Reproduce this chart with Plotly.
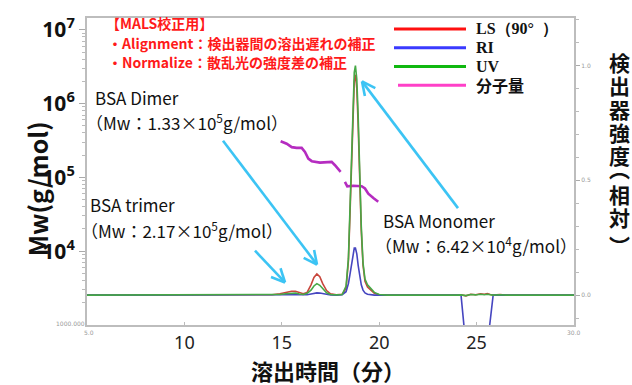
import math
import plotly.graph_objects as go

# ---- chromatogram data (elution time in min, relative detector response) ----
time_min = [5.0, 10.0, 14.0, 14.5, 14.9, 15.2, 15.5, 15.7, 15.9, 16.1, 16.3, 16.5, 16.65,
            16.8, 16.95, 17.1, 17.3, 17.5, 17.8, 18.1, 18.3, 18.42, 18.5, 18.58, 18.65,
            18.72, 18.78, 18.85, 18.92, 19.0, 19.08, 19.17, 19.27, 19.4, 19.55, 19.75,
            20.0, 20.4, 24.0, 24.2, 24.45, 24.7, 24.95, 25.2, 25.4, 25.55, 25.7, 25.85,
            26.2, 26.5, 30.0]
ls_90 = [0, 0, 0, 0.002, 0.006, 0.012, 0.017, 0.017, 0.010, 0.006, 0.012, 0.045, 0.077,
         0.092, 0.080, 0.050, 0.020, 0.006, 0.002, 0.004, 0.03, 0.15, 0.35, 0.60, 0.80,
         0.93, 0.96, 0.90, 0.74, 0.50, 0.28, 0.13, 0.06, 0.035, 0.022, 0.008,
         0.002, 0, 0, 0.002, -0.003, 0.004, 0.002, 0.006, 0.004, 0.007, 0.003, 0,
         0.003, 0, 0]
ri = [0, 0, 0, 0, 0.001, 0.002, 0.003, 0.003, 0.002, 0.001, 0.002, 0.005, 0.008,
      0.010, 0.009, 0.006, 0.003, 0.001, 0, 0.002, 0.015, 0.05, 0.09, 0.14, 0.18,
      0.205, 0.205, 0.18, 0.13, 0.08, 0.045, 0.022, 0.010, 0.004, 0.001, 0,
      0, 0, 0, 0, -0.22, -0.22, -0.22, -0.22, -0.22, -0.22, -0.11, 0,
      0, 0, 0]
uv = [0, 0, 0, 0.001, 0.003, 0.006, 0.009, 0.009, 0.005, 0.003, 0.008, 0.022, 0.040,
      0.050, 0.043, 0.027, 0.010, 0.003, 0.001, 0.003, 0.04, 0.16, 0.36, 0.62, 0.83,
      0.97, 1.0, 0.94, 0.78, 0.52, 0.30, 0.14, 0.07, 0.045, 0.03, 0.012,
      0.003, 0, 0, 0.001, -0.002, 0.003, 0.001, 0.004, 0.002, 0.004, 0.002, 0,
      0.002, 0, 0]

# ---- molar mass across the dimer and monomer peaks (log10 of g/mol) ----
mw_time_1 = [14.94, 15.25, 15.51, 15.76, 16.02, 16.19, 16.36, 16.54, 16.96, 17.39,
             17.56, 17.73, 17.90, 18.02]
mw_log_1 = [5.49, 5.456, 5.41, 5.40, 5.40, 5.345, 5.255, 5.22, 5.20, 5.20,
            5.21, 5.165, 5.12, 5.075]
mw_time_2 = [18.24, 18.36, 18.67, 19.10, 19.27, 19.44, 19.70, 19.95]
mw_log_2 = [4.94, 4.88, 4.887, 4.88, 4.85, 4.78, 4.72, 4.67]

# ---- axis ticks and labels ----
x_ticks = [10, 15, 20, 25]
mw_ticks = [1e4, 1e5, 1e6, 1e7]
mw_tick_text = ["10<sup>4</sup>", "10<sup>5</sup>", "10<sup>6</sup>", "10<sup>7</sup>"]
rel_ticks = [0.0, 0.5, 1.0]
rel_tick_text = ["0.0", "0.5", "1.0"]

legend_labels = ["LS（90°  ）", "RI", "UV", "分子量"]
legend_colors = ["#ff1010", "#3a3aff", "#10b810", "#ff40c8"]

right_title = "検出器強度︵相対︶"

W, H = 632, 385
L, R, T, B = 87, 574, 15, 325   # plot area in pixels


def px(x):
    return (x - L) / (R - L)


def py(y):
    return (B - y) / (B - T)


fig = go.Figure()

for tt, lg in ((mw_time_1, mw_log_1), (mw_time_2, mw_log_2)):
    fig.add_trace(go.Scatter(x=tt, y=[10 ** v for v in lg], mode="lines",
                             line=dict(color="#b52cc0", width=2.6), yaxis="y",
                             showlegend=False))

fig.add_trace(go.Scatter(x=time_min, y=ls_90, mode="lines", yaxis="y2",
                         line=dict(color="#c8463c", width=1.6), showlegend=False))
fig.add_trace(go.Scatter(x=time_min, y=ri, mode="lines", yaxis="y2",
                         line=dict(color="#4646c0", width=1.6), showlegend=False))
fig.add_trace(go.Scatter(x=time_min, y=uv, mode="lines", yaxis="y2",
                         line=dict(color="#46a846", width=1.6), showlegend=False))

shapes = []
annotations = []

# hand-drawn style legend
leg_rows = [26, 45, 64, 83]
for lab, col, yy in zip(legend_labels, legend_colors, leg_rows):
    x0 = 398 if lab == "分子量" else 394
    shapes.append(dict(type="line", xref="paper", yref="paper",
                       x0=px(x0), x1=px(466), y0=py(yy), y1=py(yy),
                       line=dict(color=col, width=3)))
    fam = "Noto Sans CJK JP" if lab == "分子量" else "Liberation Serif"
    annotations.append(dict(text=f"<b>{lab}</b>", xref="paper", yref="paper",
                            x=px(474), y=py(yy), xanchor="left", yanchor="middle",
                            showarrow=False, font=dict(family=fam, size=16, color="#111")))

# calibration notes
notes = ["【MALS校正用】", "・Alignment：検出器間の溶出遅れの補正", "・Normalize：散乱光の強度差の補正"]
for txt, yy, xx in zip(notes, [20, 40, 59], [104, 106, 106]):
    annotations.append(dict(text=f"<b>{txt}</b>", xref="paper", yref="paper",
                            x=px(xx), y=py(yy), xanchor="left", yanchor="middle",
                            showarrow=False,
                            font=dict(family="Noto Sans CJK JP", size=14, color="#ff1a1a")))

# peak labels
peak_labels = [
    ("BSA Dimer", 93, 95),
    ("（Mw：1.33×10<sup>5</sup>g/mol）", 84, 120),
    ("BSA trimer", 88, 203),
    ("（Mw：2.17×10<sup>5</sup>g/mol）", 79, 229),
    ("BSA Monomer", 381, 219),
    ("（Mw：6.42×10<sup>4</sup>g/mol）", 373, 244),
]
for txt, xx, yy in peak_labels:
    annotations.append(dict(text=txt, xref="paper", yref="paper", x=px(xx), y=py(yy),
                            xanchor="left", yanchor="middle", showarrow=False,
                            font=dict(family="Noto Sans CJK JP", size=17, color="#111")))

# pointer arrows with open heads
arrows = [((223, 139), (317, 264)), ((255, 250), (285, 282)), ((458, 207), (362, 79))]
acol = "#3cc4f4"
for (x0, y0), (x1, y1) in arrows:
    shapes.append(dict(type="line", xref="paper", yref="paper",
                       x0=px(x0), y0=py(y0), x1=px(x1), y1=py(y1),
                       line=dict(color=acol, width=2.6)))
    ang = math.atan2(y0 - y1, x0 - x1)
    for d in (0.45, -0.45):
        hx = x1 + 15 * math.cos(ang + d)
        hy = y1 + 15 * math.sin(ang + d)
        shapes.append(dict(type="line", xref="paper", yref="paper",
                           x0=px(x1), y0=py(y1), x1=px(hx), y1=py(hy),
                           line=dict(color=acol, width=2.6)))

# axis titles
annotations.append(dict(text="<b>Mw(g/mol)</b>", xref="paper", yref="paper",
                        x=px(37), y=py(188), textangle=-90, showarrow=False,
                        xanchor="center", yanchor="middle",
                        font=dict(family="Noto Sans CJK JP", size=25, color="#111")))
annotations.append(dict(text="<b>溶出時間（分）</b>", xref="paper", yref="paper",
                        x=px(328), y=py(370), showarrow=False,
                        xanchor="center", yanchor="middle",
                        font=dict(family="Noto Sans CJK JP", size=22, color="#111")))
# vertical right-hand title, one upright character per row
# (vertical-form brackets sit off-centre in their cell, so they get their own offsets)
title_rows = [59, 83, 107, 130, 153, 166, 193, 216, 244]
for ch, yy in zip(right_title, title_rows):
    annotations.append(dict(text=f"<b>{ch}</b>", xref="paper", yref="paper",
                            x=px(619), y=py(yy), showarrow=False,
                            xanchor="center", yanchor="middle",
                            font=dict(family="Noto Sans CJK JP", size=21, color="#111")))

# small instrument-style range labels
for txt, xx, yy in [("1000.000", 70, 323), ("5.0", 89, 333), ("30.0", 574, 333)]:
    annotations.append(dict(text=txt, xref="paper", yref="paper", x=px(xx), y=py(yy),
                            showarrow=False, xanchor="center", yanchor="middle",
                            font=dict(family="DejaVu Sans", size=6, color="#999")))

minor_log = [m * 10 ** e for e in range(3, 7) for m in range(2, 10)]

fig.update_layout(
    width=W, height=H,
    margin=dict(l=L, r=W - R, t=T, b=H - B),
    paper_bgcolor="white", plot_bgcolor="white",
    showlegend=False,
    shapes=shapes, annotations=annotations,
    xaxis=dict(range=[5, 30], tickvals=x_ticks, showgrid=False, zeroline=False,
               showline=True, linecolor="#bdbdbd", linewidth=2, mirror=True,
               ticks="inside", ticklen=3, tickcolor="#bbb",
               tickfont=dict(family="Noto Sans", size=18, color="#222")),
    yaxis=dict(type="log", range=[3, 7.16], tickvals=mw_ticks, ticktext=mw_tick_text,
               showgrid=False, zeroline=False, showline=True, linecolor="#bdbdbd",
               linewidth=2, ticks="outside", ticklen=6, tickcolor="#aaa",
               minor=dict(tickvals=minor_log, ticks="outside", ticklen=3, tickcolor="#bbb"),
               tickfont=dict(family="Noto Sans", size=21, color="#111", weight="bold")),
    yaxis2=dict(overlaying="y", side="right", range=[-0.13, 1.207], tickvals=rel_ticks,
                ticktext=rel_tick_text, showgrid=False, zeroline=False, showline=True,
                linecolor="#bdbdbd", linewidth=2, ticks="outside", ticklen=4,
                tickcolor="#aaa",
                minor=dict(dtick=0.1, ticks="outside", ticklen=3, tickcolor="#bbb"),
                tickfont=dict(family="DejaVu Sans", size=6, color="#999")),
)

fig.write_html("out.html")
